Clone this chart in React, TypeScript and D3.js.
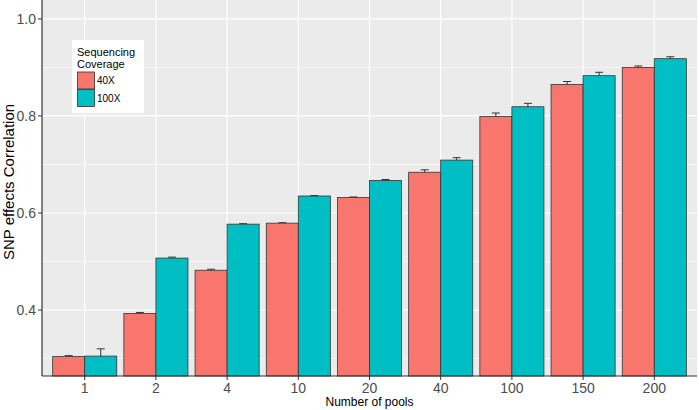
import React, { useEffect, useRef } from 'react';
import * as d3 from 'd3';

// Data
const pools = ['1', '2', '4', '10', '20', '40', '100', '150', '200'];
const coverages = ['40X', '100X'];
const corr40 = [0.304, 0.393, 0.482, 0.579, 0.632, 0.684, 0.799, 0.865, 0.900];
const corr100 = [0.305, 0.507, 0.577, 0.635, 0.667, 0.709, 0.819, 0.883, 0.918];
const se40 = [0.002, 0.002, 0.002, 0.001, 0.001, 0.005, 0.007, 0.006, 0.003];
const se100 = [0.015, 0.002, 0.001, 0.001, 0.002, 0.005, 0.007, 0.007, 0.004];
const yTicks = [0.4, 0.6, 0.8, 1.0];
const yMinor = [0.3, 0.5, 0.7, 0.9];

const colors = ['#F8766D', '#00BFC4'];

interface Row {
  pool: string;
  cov: string;
  value: number;
  se: number;
}

const rows: Row[] = pools.flatMap((p, i) => [
  { pool: p, cov: coverages[0], value: corr40[i], se: se40[i] },
  { pool: p, cov: coverages[1], value: corr100[i], se: se100[i] },
]);

const W = 699;
const H = 410;

export default function App() {
  const svgRef = useRef<SVGSVGElement>(null);

  useEffect(() => {
    if (!svgRef.current) return;
    const svg = d3.select(svgRef.current);
    svg.selectAll('*').remove();

    const font = '"Liberation Sans", Arial, sans-serif';
    const left = 42;
    const right = 697;
    const top = 0;
    const bottom = 376;

    // Scales
    const x = d3.scaleBand<string>()
      .domain(pools)
      .range([left, right])
      .paddingInner(0.1)
      .paddingOuter(0.15);

    const xSub = d3.scaleBand<string>()
      .domain(coverages)
      .range([0, x.bandwidth()]);

    const y = d3.scaleLinear().domain([0.264, 1.039]).range([bottom, top]);

    // Panel background
    svg.append('rect')
      .attr('x', left).attr('y', top)
      .attr('width', right - left).attr('height', bottom - top)
      .attr('fill', '#EBEBEB');

    // Grid
    svg.append('g').selectAll('line')
      .data(yMinor).join('line')
      .attr('x1', left).attr('x2', right)
      .attr('y1', d => y(d)).attr('y2', d => y(d))
      .attr('stroke', '#fff').attr('stroke-width', 0.6);

    svg.append('g').selectAll('line')
      .data(yTicks).join('line')
      .attr('x1', left).attr('x2', right)
      .attr('y1', d => y(d)).attr('y2', d => y(d))
      .attr('stroke', '#fff').attr('stroke-width', 1.2);

    svg.append('g').selectAll('line')
      .data(pools).join('line')
      .attr('x1', d => x(d)! + x.bandwidth() / 2).attr('x2', d => x(d)! + x.bandwidth() / 2)
      .attr('y1', top).attr('y2', bottom)
      .attr('stroke', '#fff').attr('stroke-width', 1.2);

    // Error bars (drawn under bars)
    const eb = svg.append('g');
    const capW = 8;
    rows.forEach(r => {
      const cx = x(r.pool)! + xSub(r.cov)! + xSub.bandwidth() / 2;
      eb.append('line')
        .attr('x1', cx).attr('x2', cx)
        .attr('y1', y(r.value + r.se)).attr('y2', y(r.value - r.se))
        .attr('stroke', '#333').attr('stroke-width', 1);
      eb.append('line')
        .attr('x1', cx - capW / 2).attr('x2', cx + capW / 2)
        .attr('y1', y(r.value + r.se)).attr('y2', y(r.value + r.se))
        .attr('stroke', '#333').attr('stroke-width', 1);
    });

    // Bars
    svg.append('g').selectAll('rect')
      .data(rows).join('rect')
      .attr('x', d => x(d.pool)! + xSub(d.cov)!)
      .attr('width', xSub.bandwidth())
      .attr('y', d => y(d.value))
      .attr('height', d => bottom - y(d.value))
      .attr('fill', d => colors[coverages.indexOf(d.cov)])
      .attr('stroke', '#333')
      .attr('stroke-width', 0.8);

    // Axes lines
    svg.append('line')
      .attr('x1', left).attr('x2', left).attr('y1', top).attr('y2', bottom)
      .attr('stroke', '#333').attr('stroke-width', 1.2);
    svg.append('line')
      .attr('x1', left).attr('x2', right).attr('y1', bottom).attr('y2', bottom)
      .attr('stroke', '#333').attr('stroke-width', 1.2);

    // Y ticks
    const yAxis = svg.append('g');
    yTicks.forEach(t => {
      yAxis.append('line')
        .attr('x1', left - 4).attr('x2', left)
        .attr('y1', y(t)).attr('y2', y(t))
        .attr('stroke', '#333');
      yAxis.append('text')
        .attr('x', left - 6).attr('y', y(t))
        .attr('dy', '0.35em')
        .attr('text-anchor', 'end')
        .attr('font-family', font).attr('font-size', 14)
        .attr('fill', '#4D4D4D')
        .text(t.toFixed(1));
    });

    // X ticks
    const xAxis = svg.append('g');
    pools.forEach(p => {
      const cx = x(p)! + x.bandwidth() / 2;
      xAxis.append('line')
        .attr('x1', cx).attr('x2', cx)
        .attr('y1', bottom).attr('y2', bottom + 4)
        .attr('stroke', '#333');
      xAxis.append('text')
        .attr('x', cx).attr('y', bottom + 17)
        .attr('text-anchor', 'middle')
        .attr('font-family', font).attr('font-size', 14)
        .attr('fill', '#4D4D4D')
        .text(p);
    });

    // Axis titles
    svg.append('text')
      .attr('x', (left + right) / 2).attr('y', 406)
      .attr('text-anchor', 'middle')
      .attr('font-family', font).attr('font-size', 12)
      .attr('fill', '#000')
      .text('Number of pools');

    svg.append('text')
      .attr('transform', `translate(14,182) rotate(-90)`)
      .attr('text-anchor', 'middle')
      .attr('font-family', font).attr('font-size', 15)
      .attr('fill', '#000')
      .text('SNP effects Correlation');

    // Legend
    const lg = svg.append('g').attr('transform', 'translate(72,40)');
    lg.append('rect')
      .attr('width', 72).attr('height', 73)
      .attr('fill', '#fff');
    lg.append('text')
      .attr('x', 5).attr('y', 15.5)
      .attr('font-family', font).attr('font-size', 11)
      .text('Sequencing');
    lg.append('text')
      .attr('x', 5).attr('y', 27.5)
      .attr('font-family', font).attr('font-size', 11)
      .text('Coverage');
    coverages.forEach((c, i) => {
      lg.append('rect')
        .attr('x', 5.5).attr('y', 32 + i * 17.5)
        .attr('width', 17).attr('height', 17)
        .attr('fill', colors[i])
        .attr('stroke', '#333').attr('stroke-width', 0.8);
      lg.append('text')
        .attr('x', 25).attr('y', 32 + i * 17.5 + 8.5)
        .attr('dy', '0.35em')
        .attr('font-family', font).attr('font-size', 10)
        .text(c);
    });
  }, []);

  return (
    <svg
      ref={svgRef}
      width={W}
      height={H}
      style={{ position: 'absolute', left: 0, top: 0, background: '#fff' }}
    />
  );
}
